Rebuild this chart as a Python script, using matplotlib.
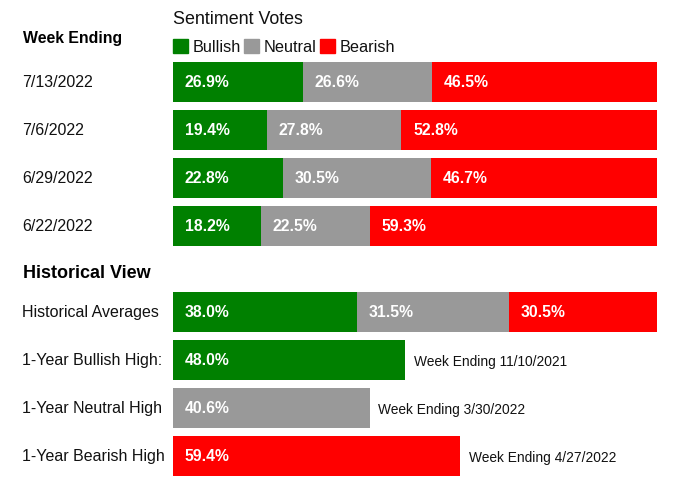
import matplotlib
matplotlib.use("Agg")
import matplotlib.pyplot as plt
from matplotlib.patches import Rectangle
from matplotlib.transforms import blended_transform_factory

plt.rcParams['font.family'] = ['Liberation Sans', 'DejaVu Sans']

# weekly sentiment votes (%)
weeks = ["7/13/2022", "7/6/2022", "6/29/2022", "6/22/2022"]
bullish = [26.9, 19.4, 22.8, 18.2]
neutral = [26.6, 27.8, 30.5, 22.5]
bearish = [46.5, 52.8, 46.7, 59.3]

# historical view
hist_avg_labels = ["Historical Averages"]
hist_avg = [38.0, 31.5, 30.5]
high_labels = ["1-Year Bullish High:", "1-Year Neutral High", "1-Year Bearish High"]
high_values = [48.0, 40.6, 59.4]
high_weeks = ["Week Ending 11/10/2021", "Week Ending 3/30/2022", "Week Ending 4/27/2022"]

GREEN = "#008000"
GRAY = "#999999"
RED = "#ff0000"
W, H = 680, 489


def px(x, y):
    # pixel position (top-left origin) -> figure fraction
    return x / W, 1 - y / H


fig = plt.figure(figsize=(W / 100, H / 100), dpi=100)
bar_left, bar_right = 173, 657
ax = fig.add_axes([bar_left / W, 0, (bar_right - bar_left) / W, 1])
ax.set_xlim(0, 100)
# one row = 48 px, first row centred at 83 px
ax.set_ylim((H - 83) / 48, -83 / 48)
ax.axis("off")

bh = 39.5 / 48
pad = 2.4
pct_size = 11.3
week_pos = [0, 1, 2, 3]
hist_pos = [4.79]
high_pos = [5.79, 6.79, 7.79]

lefts = [0] * len(weeks)
for vals, color in [(bullish, GREEN), (neutral, GRAY), (bearish, RED)]:
    ax.barh(week_pos, vals, left=lefts, height=bh, color=color)
    for y, v, l in zip(week_pos, vals, lefts):
        ax.text(l + pad, y, f"{v:.1f}%", color="white", fontsize=pct_size,
                fontweight="bold", va="center", ha="left")
    lefts = [l + v for l, v in zip(lefts, vals)]

l = 0
for v, color in zip(hist_avg, [GREEN, GRAY, RED]):
    ax.barh(hist_pos, [v], left=[l], height=bh, color=color)
    ax.text(l + pad, hist_pos[0], f"{v:.1f}%", color="white", fontsize=pct_size,
            fontweight="bold", va="center", ha="left")
    l += v

for y, v, color, wk in zip(high_pos, high_values, [GREEN, GRAY, RED], high_weeks):
    ax.barh([y], [v], height=bh, color=color)
    ax.text(pad, y, f"{v:.1f}%", color="white", fontsize=pct_size,
            fontweight="bold", va="center", ha="left")
    ax.text(v + 1.8, y + 0.03, wk, color="#111111", fontsize=9.9,
            va="center", ha="left")

# row labels on the left
lab_tr = blended_transform_factory(fig.transFigure, ax.transData)
for y, t in zip(week_pos + hist_pos + high_pos, weeks + hist_avg_labels + high_labels):
    ax.text(22.5 / W, y, t, transform=lab_tr, fontsize=11.5, color="#111111",
            va="center", ha="left")

fig.text(*px(23, 39), "Week Ending", fontsize=11.4, fontweight="bold",
         va="center", ha="left")
fig.text(*px(23, 273), "Historical View", fontsize=13, fontweight="bold",
         va="center", ha="left")
fig.text(*px(173, 19), "Sentiment Votes", fontsize=12.9, color="#111111",
         va="center", ha="left")

# legend
for x, name, color in [(173, "Bullish", GREEN), (244, "Neutral", GRAY), (320, "Bearish", RED)]:
    x0, y0 = px(x, 54)
    fig.add_artist(Rectangle((x0, y0), 15 / W, 14 / H, transform=fig.transFigure,
                             color=color))
    fig.text(*px(x + 20, 47), name, fontsize=11.7, color="#111111",
             va="center", ha="left")

fig.savefig("out.png", dpi=100)
